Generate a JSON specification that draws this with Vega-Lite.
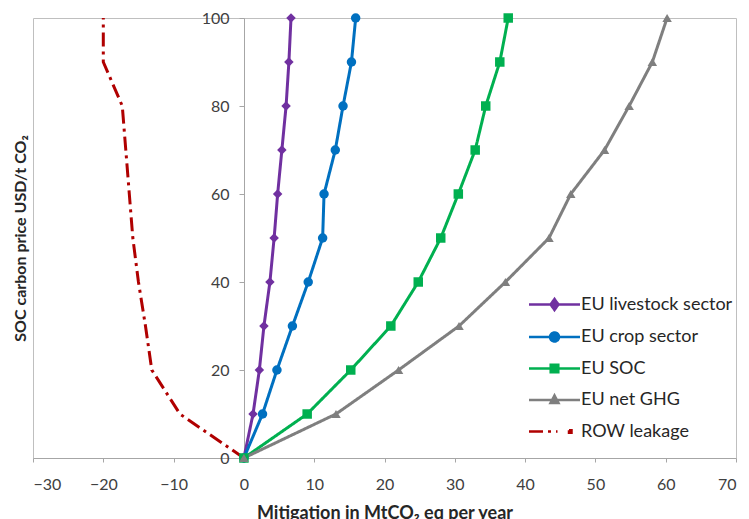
{
  "$schema": "https://vega.github.io/schema/vega-lite/v6.json",
  "width": 703,
  "height": 440,
  "autosize": "none",
  "padding": {"left": 33, "top": 18, "right": 13, "bottom": 61},
  "background": "white",
  "config": {"view": {"stroke": "#BFBFBF", "strokeWidth": 1}, "font": "Lato"},
  "data": {"values": [
    {"series": "EU livestock sector", "x": 0, "price": 0},
    {"series": "EU livestock sector", "x": 1.3, "price": 10},
    {"series": "EU livestock sector", "x": 2.2, "price": 20},
    {"series": "EU livestock sector", "x": 2.85, "price": 30},
    {"series": "EU livestock sector", "x": 3.7, "price": 40},
    {"series": "EU livestock sector", "x": 4.3, "price": 50},
    {"series": "EU livestock sector", "x": 4.8, "price": 60},
    {"series": "EU livestock sector", "x": 5.4, "price": 70},
    {"series": "EU livestock sector", "x": 6.0, "price": 80},
    {"series": "EU livestock sector", "x": 6.4, "price": 90},
    {"series": "EU livestock sector", "x": 6.7, "price": 100},
    {"series": "EU crop sector", "x": 0, "price": 0},
    {"series": "EU crop sector", "x": 2.65, "price": 10},
    {"series": "EU crop sector", "x": 4.7, "price": 20},
    {"series": "EU crop sector", "x": 6.9, "price": 30},
    {"series": "EU crop sector", "x": 9.15, "price": 40},
    {"series": "EU crop sector", "x": 11.2, "price": 50},
    {"series": "EU crop sector", "x": 11.4, "price": 60},
    {"series": "EU crop sector", "x": 13.0, "price": 70},
    {"series": "EU crop sector", "x": 14.1, "price": 80},
    {"series": "EU crop sector", "x": 15.3, "price": 90},
    {"series": "EU crop sector", "x": 15.9, "price": 100},
    {"series": "EU SOC", "x": 0, "price": 0},
    {"series": "EU SOC", "x": 9.0, "price": 10},
    {"series": "EU SOC", "x": 15.2, "price": 20},
    {"series": "EU SOC", "x": 20.9, "price": 30},
    {"series": "EU SOC", "x": 24.8, "price": 40},
    {"series": "EU SOC", "x": 28.0, "price": 50},
    {"series": "EU SOC", "x": 30.5, "price": 60},
    {"series": "EU SOC", "x": 32.9, "price": 70},
    {"series": "EU SOC", "x": 34.4, "price": 80},
    {"series": "EU SOC", "x": 36.4, "price": 90},
    {"series": "EU SOC", "x": 37.6, "price": 100},
    {"series": "EU net GHG", "x": 0, "price": 0},
    {"series": "EU net GHG", "x": 13.1, "price": 10},
    {"series": "EU net GHG", "x": 22.0, "price": 20},
    {"series": "EU net GHG", "x": 30.6, "price": 30},
    {"series": "EU net GHG", "x": 37.2, "price": 40},
    {"series": "EU net GHG", "x": 43.4, "price": 50},
    {"series": "EU net GHG", "x": 46.5, "price": 60},
    {"series": "EU net GHG", "x": 51.3, "price": 70},
    {"series": "EU net GHG", "x": 54.8, "price": 80},
    {"series": "EU net GHG", "x": 58.1, "price": 90},
    {"series": "EU net GHG", "x": 60.2, "price": 100},
    {"series": "ROW leakage", "x": 0, "price": 0},
    {"series": "ROW leakage", "x": -9.1, "price": 10},
    {"series": "ROW leakage", "x": -13.1, "price": 20},
    {"series": "ROW leakage", "x": -14.0, "price": 30},
    {"series": "ROW leakage", "x": -15.0, "price": 40},
    {"series": "ROW leakage", "x": -15.8, "price": 50},
    {"series": "ROW leakage", "x": -16.3, "price": 60},
    {"series": "ROW leakage", "x": -16.8, "price": 70},
    {"series": "ROW leakage", "x": -17.3, "price": 80},
    {"series": "ROW leakage", "x": -20.0, "price": 90},
    {"series": "ROW leakage", "x": -20.0, "price": 100}
  ]},
  "layer": [
    {
      "mark": {"type": "line", "strokeWidth": 3},
      "encoding": {
        "x": {
          "field": "x", "type": "quantitative",
          "scale": {"domain": [-30, 70], "nice": false},
          "axis": {
            "values": [-30, -20, -10, 0, 10, 20, 30, 40, 50, 60, 70],
            "grid": false,
            "domainColor": "#A6A6A6", "tickColor": "#A6A6A6", "tickSize": 4,
            "labelFontSize": 16, "labelColor": "#404040", "labelPadding": 14,
            "title": "Mitigation in MtCO₂ eq per year",
            "titleFontSize": 18, "titleFontWeight": "bold", "titleColor": "#262626",
            "titlePadding": 12
          }
        },
        "y": {
          "field": "price", "type": "quantitative",
          "scale": {"domain": [0, 100], "nice": false},
          "axis": {
            "offset": -211,
            "values": [0, 20, 40, 60, 80, 100],
            "grid": false,
            "domainColor": "#A6A6A6", "tickColor": "#A6A6A6", "tickSize": 5,
            "labelFontSize": 16, "labelColor": "#404040", "labelPadding": 10,
            "title": "SOC carbon price  USD/t CO₂",
            "titleFontSize": 16, "titleFontWeight": "bold", "titleColor": "#262626",
            "titleX": -216, "titleY": 220
          }
        },
        "order": {"field": "price", "type": "quantitative"},
        "color": {
          "field": "series", "type": "nominal",
          "scale": {
            "domain": ["EU livestock sector", "EU crop sector", "EU SOC", "EU net GHG", "ROW leakage"],
            "range": ["#7030A0", "#0070C0", "#00B050", "#7F7F7F", "#B00000"]
          },
          "legend": {
            "title": null,
            "orient": "none",
            "legendX": 510,
            "legendY": 275,
            "labelFont": "Lato",
            "labelFontSize": 18,
            "labelColor": "#262626",
            "symbolSize": 400,
            "symbolStrokeWidth": 2.5,
            "labelOffset": 15,
            "rowPadding": 10.5,
            "encode": {
              "symbols": {
                "update": {
                  "shape": {"signal": "datum.value === 'EU livestock sector' ? 'M-2.55,0L2.55,0M0,-0.55L0.4,0L0,0.55L-0.4,0Z' : datum.value === 'EU crop sector' ? 'M-2.55,0L2.55,0M0.45,0A0.45,0.45 0 1,1 -0.45,0A0.45,0.45 0 1,1 0.45,0Z' : datum.value === 'EU SOC' ? 'M-2.55,0L2.55,0M-0.38,-0.38L0.38,-0.38L0.38,0.38L-0.38,0.38Z' : datum.value === 'EU net GHG' ? 'M-2.55,0L2.55,0M0,-0.45L0.4,0.3L-0.4,0.3Z' : 'M-2.55,0L0.3,0M1.45,-0.12L1.7,-0.12L1.7,0.12L1.45,0.12Z'"},
                  "fill": {"scale": "color", "field": "value"},
                  "stroke": {"scale": "color", "field": "value"},
                  "strokeWidth": {"value": 2.5},
                  "strokeDash": {"value": []},
                  "opacity": {"value": 1}
                }
              }
            }
          }
        },
        "strokeDash": {
          "field": "series", "type": "nominal",
          "scale": {
            "domain": ["EU livestock sector", "EU crop sector", "EU SOC", "EU net GHG", "ROW leakage"],
            "range": [[1, 0], [1, 0], [1, 0], [1, 0], [14, 5, 3, 5]]
          },
          "legend": null
        }
      }
    },
    {
      "transform": [{"filter": "datum.series !== 'ROW leakage'"}],
      "mark": {"type": "point", "filled": true, "opacity": 1, "size": 90},
      "encoding": {
        "x": {"field": "x", "type": "quantitative"},
        "y": {"field": "price", "type": "quantitative"},
        "color": {"field": "series", "type": "nominal"},
        "shape": {
          "field": "series", "type": "nominal",
          "scale": {
            "domain": ["EU livestock sector", "EU crop sector", "EU SOC", "EU net GHG"],
            "range": ["diamond", "circle", "square", "triangle-up"]
          },
          "legend": null
        }
      }
    }
  ]
}
